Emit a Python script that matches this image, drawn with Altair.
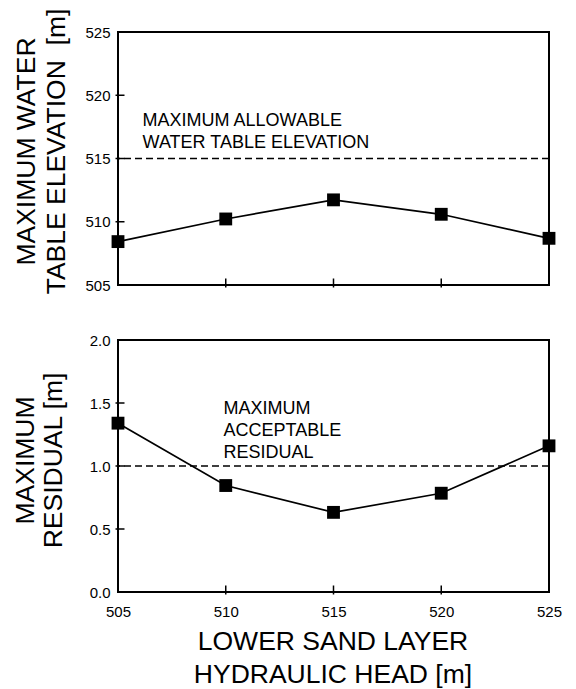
import altair as alt
import pandas as pd

# ---- data ----
head = [505, 510, 515, 520, 525]
max_water_table = [508.43, 510.22, 511.73, 510.59, 508.69]
max_residual = [1.34, 0.845, 0.632, 0.784, 1.16]
water_table_limit = [515]
residual_limit = [1.0]
x_tick_values = [510, 515, 520]
wt_tick_values = [510, 515, 520]
res_tick_values = [0.5, 1.0, 1.5]
wt_note = ["MAXIMUM ALLOWABLE\nWATER TABLE ELEVATION"]
res_note = ["MAXIMUM\nACCEPTABLE\nRESIDUAL"]

FONT = "Liberation Sans"
W, H_TOP, H_BOT = 431, 253, 252

xscale = alt.Scale(domain=[505, 525], nice=False, zero=False)
wt_scale = alt.Scale(domain=[505, 525], nice=False, zero=False)
res_scale = alt.Scale(domain=[0, 2], nice=False, zero=False)

common_axis = dict(grid=False, ticks=False, tickSize=0, domain=False,
                   labelFontSize=15, labelFont=FONT, labelColor="black",
                   labelFlush=False, labelOverlap=False,
                   titleFont=FONT, titleFontSize=26.5, titleFontWeight="normal",
                   titleColor="black")


def y_ticks(values, at):
    return alt.Chart(pd.DataFrame({"v": values})).mark_rule(
        color="black", strokeWidth=1.5, xOffset=-2.5, x2Offset=6.5
    ).encode(y="v:Q", x=alt.datum(at), x2=alt.datum(at))


def x_ticks(values, at):
    return alt.Chart(pd.DataFrame({"h": values})).mark_rule(
        color="black", strokeWidth=1.5, yOffset=2.5, y2Offset=-6.5
    ).encode(x="h:Q", y=alt.datum(at), y2=alt.datum(at))


# ---------------- top panel ----------------
top_df = pd.DataFrame({"h": head, "v": max_water_table})
x_top = alt.X("h:Q", scale=xscale,
              axis=alt.Axis(labels=False, ticks=False, domain=False, grid=False, title=None))
y_top = alt.Y("v:Q", scale=wt_scale,
              axis=alt.Axis(values=[505, 510, 515, 520, 525], format="d", labelPadding=8,
                            title=["MAXIMUM WATER", "TABLE ELEVATION\u00a0 [m]"],
                            titleAngle=270, titleAlign="center", titleBaseline="alphabetic",
                            titleX=-84, titleY=119, titleLineHeight=30, **common_axis))

top_line = alt.Chart(top_df).mark_line(color="black", strokeWidth=1.7).encode(x=x_top, y=y_top)
top_pts = alt.Chart(top_df).mark_square(size=165, color="black", opacity=1).encode(x="h:Q", y="v:Q")
top_rule = alt.Chart(pd.DataFrame({"v": water_table_limit})).mark_rule(
    color="black", strokeWidth=1.5, strokeDash=[7, 4]).encode(y="v:Q")
top_text = alt.Chart(pd.DataFrame({"note": wt_note})).mark_text(
    align="left", baseline="alphabetic", fontSize=18, lineHeight=22, lineBreak="\n",
    font=FONT, color="black"
).encode(text="note:N", x=alt.datum(506.14), y=alt.datum(517.59))

top = alt.layer(top_line, top_rule, y_ticks(wt_tick_values, 505), x_ticks(x_tick_values, 505),
                top_text, top_pts).properties(width=W, height=H_TOP)

# ---------------- bottom panel ----------------
bot_df = pd.DataFrame({"h": head, "v": max_residual})
x_bot = alt.X("h:Q", scale=xscale,
              axis=alt.Axis(values=head, format="d", labelPadding=12,
                            title=["LOWER SAND LAYER", "HYDRAULIC HEAD [m]"],
                            titleAlign="center", titleBaseline="alphabetic",
                            titleX=W / 2 - 1, titleY=57, titleLineHeight=33, **common_axis))
y_bot = alt.Y("v:Q", scale=res_scale,
              axis=alt.Axis(values=[0, 0.5, 1.0, 1.5, 2.0], format=".1f", labelPadding=8,
                            title=["MAXIMUM", "RESIDUAL [m]"],
                            titleAngle=270, titleAlign="center", titleBaseline="alphabetic",
                            titleX=-85, titleY=120, titleLineHeight=28, **common_axis))

bot_line = alt.Chart(bot_df).mark_line(color="black", strokeWidth=1.7).encode(x=x_bot, y=y_bot)
bot_pts = alt.Chart(bot_df).mark_square(size=165, color="black", opacity=1).encode(x="h:Q", y="v:Q")
bot_rule = alt.Chart(pd.DataFrame({"v": residual_limit})).mark_rule(
    color="black", strokeWidth=1.5, strokeDash=[7, 4]).encode(y="v:Q")
bot_text = alt.Chart(pd.DataFrame({"note": res_note})).mark_text(
    align="left", baseline="alphabetic", fontSize=18, lineHeight=22, lineBreak="\n",
    font=FONT, color="black"
).encode(text="note:N", x=alt.datum(509.9), y=alt.datum(1.413))

bottom = alt.layer(bot_line, bot_rule, y_ticks(res_tick_values, 505), x_ticks(x_tick_values, 0),
                   bot_text, bot_pts).properties(width=W, height=H_BOT)

chart = alt.vconcat(top, bottom, spacing=55, bounds="flush").properties(
    padding={"left": 11, "top": 7, "right": 10, "bottom": 0},
    background="white",
).configure(font=FONT).configure_view(stroke="black", strokeWidth=2)

chart.save("out.html", embed_options={"renderer": "svg", "actions": False})
